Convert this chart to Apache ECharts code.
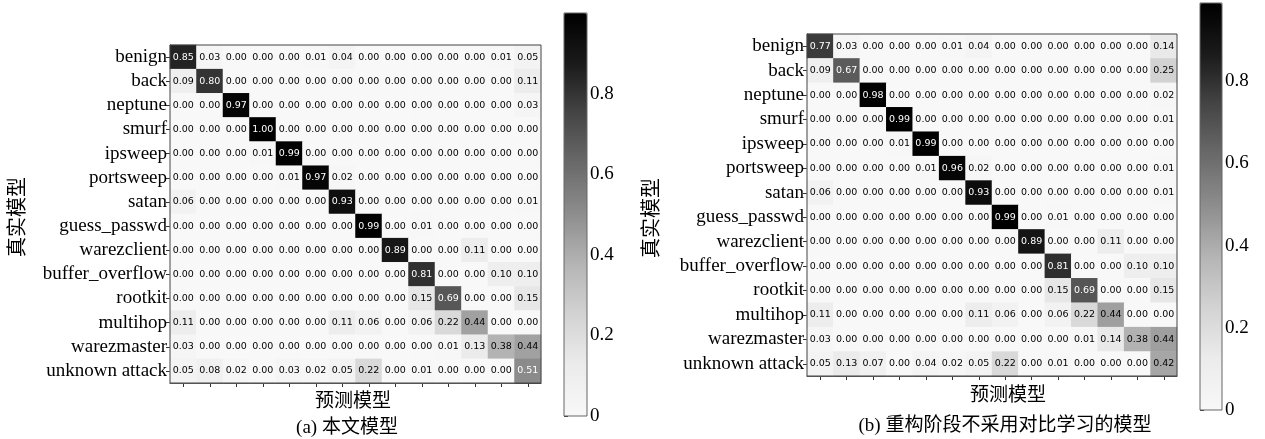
<!DOCTYPE html>
<html><head><meta charset="utf-8">
<script src="https://cdn.jsdelivr.net/npm/echarts@6/dist/echarts.min.js"></script>
<style>html,body{margin:0;padding:0;background:#fff}#c{width:1265px;height:439px}</style>
</head><body><div id="c"></div>
<script>
const classes = ['benign','back','neptune','smurf','ipsweep','portsweep','satan','guess_passwd','warezclient','buffer_overflow','rootkit','multihop','warezmaster','unknown attack'];

const matrixA = [
  [0.85,0.03,0.00,0.00,0.00,0.01,0.04,0.00,0.00,0.00,0.00,0.00,0.01,0.05],
  [0.09,0.80,0.00,0.00,0.00,0.00,0.00,0.00,0.00,0.00,0.00,0.00,0.00,0.11],
  [0.00,0.00,0.97,0.00,0.00,0.00,0.00,0.00,0.00,0.00,0.00,0.00,0.00,0.03],
  [0.00,0.00,0.00,1.00,0.00,0.00,0.00,0.00,0.00,0.00,0.00,0.00,0.00,0.00],
  [0.00,0.00,0.00,0.01,0.99,0.00,0.00,0.00,0.00,0.00,0.00,0.00,0.00,0.00],
  [0.00,0.00,0.00,0.00,0.01,0.97,0.02,0.00,0.00,0.00,0.00,0.00,0.00,0.00],
  [0.06,0.00,0.00,0.00,0.00,0.00,0.93,0.00,0.00,0.00,0.00,0.00,0.00,0.01],
  [0.00,0.00,0.00,0.00,0.00,0.00,0.00,0.99,0.00,0.01,0.00,0.00,0.00,0.00],
  [0.00,0.00,0.00,0.00,0.00,0.00,0.00,0.00,0.89,0.00,0.00,0.11,0.00,0.00],
  [0.00,0.00,0.00,0.00,0.00,0.00,0.00,0.00,0.00,0.81,0.00,0.00,0.10,0.10],
  [0.00,0.00,0.00,0.00,0.00,0.00,0.00,0.00,0.00,0.15,0.69,0.00,0.00,0.15],
  [0.11,0.00,0.00,0.00,0.00,0.00,0.11,0.06,0.00,0.06,0.22,0.44,0.00,0.00],
  [0.03,0.00,0.00,0.00,0.00,0.00,0.00,0.00,0.00,0.00,0.01,0.13,0.38,0.44],
  [0.05,0.08,0.02,0.00,0.03,0.02,0.05,0.22,0.00,0.01,0.00,0.00,0.00,0.51]
];

const matrixB = [
  [0.77,0.03,0.00,0.00,0.00,0.01,0.04,0.00,0.00,0.00,0.00,0.00,0.00,0.14],
  [0.09,0.67,0.00,0.00,0.00,0.00,0.00,0.00,0.00,0.00,0.00,0.00,0.00,0.25],
  [0.00,0.00,0.98,0.00,0.00,0.00,0.00,0.00,0.00,0.00,0.00,0.00,0.00,0.02],
  [0.00,0.00,0.00,0.99,0.00,0.00,0.00,0.00,0.00,0.00,0.00,0.00,0.00,0.01],
  [0.00,0.00,0.00,0.01,0.99,0.00,0.00,0.00,0.00,0.00,0.00,0.00,0.00,0.00],
  [0.00,0.00,0.00,0.00,0.01,0.96,0.02,0.00,0.00,0.00,0.00,0.00,0.00,0.01],
  [0.06,0.00,0.00,0.00,0.00,0.00,0.93,0.00,0.00,0.00,0.00,0.00,0.00,0.01],
  [0.00,0.00,0.00,0.00,0.00,0.00,0.00,0.99,0.00,0.01,0.00,0.00,0.00,0.00],
  [0.00,0.00,0.00,0.00,0.00,0.00,0.00,0.00,0.89,0.00,0.00,0.11,0.00,0.00],
  [0.00,0.00,0.00,0.00,0.00,0.00,0.00,0.00,0.00,0.81,0.00,0.00,0.10,0.10],
  [0.00,0.00,0.00,0.00,0.00,0.00,0.00,0.00,0.00,0.15,0.69,0.00,0.00,0.15],
  [0.11,0.00,0.00,0.00,0.00,0.00,0.11,0.06,0.00,0.06,0.22,0.44,0.00,0.00],
  [0.03,0.00,0.00,0.00,0.00,0.00,0.00,0.00,0.00,0.00,0.01,0.14,0.38,0.44],
  [0.05,0.13,0.07,0.00,0.04,0.02,0.05,0.22,0.00,0.01,0.00,0.00,0.00,0.42]
];

const vmaxA = 1.00;
const vmaxB = 0.99;
const cbTickLabels = ['0','0.2','0.4','0.6','0.8'];
const yName = '真实模型';
const xName = '预测模型';
const subA = '(a) 本文模型';
const subB = '(b) 重构阶段不采用对比学习的模型';

const greys = ['#f8f8f8','#ececec','#d3d3d3','#b5b5b5','#8e8e8e','#6a6a6a','#454545','#1a1a1a','#000000'];
const serif = 'Liberation Serif, Noto Sans CJK SC, serif';

function toData(m, vmax) {
  const out = [];
  m.forEach((row, i) => row.forEach((v, j) => {
    out.push({ value: [j, i, v], label: { color: v > vmax / 2 ? '#ffffff' : '#000000' } });
  }));
  return out;
}

const chart = echarts.init(document.getElementById('c'), null, { renderer: 'canvas' });

function heatAxes(gi) {
  return {
    x: {
      type: 'category', gridIndex: gi, data: classes,
      axisLine: { show: true, lineStyle: { color: '#333', width: 1 } },
      axisTick: { show: true, interval: 0, alignWithLabel: true, length: 4, lineStyle: { color: '#333' } },
      axisLabel: { show: false, interval: 0 }, splitLine: { show: false }
    },
    y: {
      type: 'category', gridIndex: gi, data: classes, inverse: true,
      axisLine: { show: true, lineStyle: { color: '#333', width: 1 } },
      axisTick: { show: true, interval: 0, alignWithLabel: true, length: 4, lineStyle: { color: '#333' } },
      axisLabel: { show: true, interval: 0, fontFamily: serif, fontSize: 19, color: '#000', margin: 3 },
      splitLine: { show: false }
    }
  };
}
function cbAxes(gi, vmax) {
  return {
    x: { type: 'value', gridIndex: gi, show: false, min: 0, max: 1 },
    y: {
      type: 'value', gridIndex: gi, min: 0, max: vmax, interval: 0.2, position: 'right',
      axisLine: { show: false },
      axisTick: { show: true, length: 4, lineStyle: { color: '#333' } },
      axisLabel: {
        show: true, fontFamily: serif, fontSize: 19, color: '#000', margin: 3,
        formatter: (v) => { const k = Math.round(v / 0.2); return k < cbTickLabels.length ? cbTickLabels[k] : ''; }
      },
      splitLine: { show: false }
    }
  };
}

const hA = heatAxes(0), hB = heatAxes(1), cA = cbAxes(2, vmaxA), cB = cbAxes(3, vmaxB);

const heatSeries = (gi, m, vmax) => ({
  type: 'heatmap', xAxisIndex: gi, yAxisIndex: gi, data: toData(m, vmax),
  label: { show: true, fontFamily: 'DejaVu Sans', fontSize: 9.5, formatter: (p) => p.value[2].toFixed(2) },
  itemStyle: { borderWidth: 0 },
  emphasis: { disabled: true }
});

chart.setOption({
  animation: false,
  backgroundColor: '#ffffff',
  grid: [
    { left: 170, top: 45, width: 371, height: 338, show: true, borderColor: '#444', borderWidth: 1, backgroundColor: 'transparent', z: 5 },
    { left: 807, top: 34, width: 370, height: 342, show: true, borderColor: '#444', borderWidth: 1, backgroundColor: 'transparent', z: 5 },
    { left: 564, top: 13, width: 23, height: 403, show: true, borderColor: '#666', borderWidth: 1, backgroundColor: 'transparent', z: 10 },
    { left: 1200, top: 3, width: 22, height: 407, show: true, borderColor: '#666', borderWidth: 1, backgroundColor: 'transparent', z: 10 }
  ],
  xAxis: [hA.x, hB.x, cA.x, cB.x],
  yAxis: [hA.y, hB.y, cA.y, cB.y],
  visualMap: [
    { type: 'continuous', seriesIndex: 0, min: 0, max: vmaxA, calculable: false, hoverLink: false,
      left: 564, top: 13, itemWidth: 23, itemHeight: 403, padding: 0, text: ['', ''],
      inRange: { color: greys } },
    { type: 'continuous', seriesIndex: 1, min: 0, max: vmaxB, calculable: false, hoverLink: false,
      left: 1200, top: 3, itemWidth: 22, itemHeight: 407, padding: 0, text: ['', ''],
      inRange: { color: greys } }
  ],
  series: [heatSeries(0, matrixA, vmaxA), heatSeries(1, matrixB, vmaxB)],
  graphic: [
    { type: 'text', x: 19, y: 217, rotation: Math.PI / 2, style: { text: yName, font: '20px ' + serif, fill: '#000', align: 'center', verticalAlign: 'middle' } },
    { type: 'text', x: 653, y: 218, rotation: Math.PI / 2, style: { text: yName, font: '20px ' + serif, fill: '#000', align: 'center', verticalAlign: 'middle' } },
    { type: 'text', x: 353, y: 402, style: { text: xName, font: '19px ' + serif, fill: '#000', align: 'center', verticalAlign: 'middle' } },
    { type: 'text', x: 347, y: 428, style: { text: subA, font: '19px ' + serif, fill: '#000', align: 'center', verticalAlign: 'middle' } },
    { type: 'text', x: 1008, y: 396, style: { text: xName, font: '19px ' + serif, fill: '#000', align: 'center', verticalAlign: 'middle' } },
    { type: 'text', x: 1005, y: 426, style: { text: subB, font: '19px ' + serif, fill: '#000', align: 'center', verticalAlign: 'middle' } }
  ]
});
</script>
</body></html>
